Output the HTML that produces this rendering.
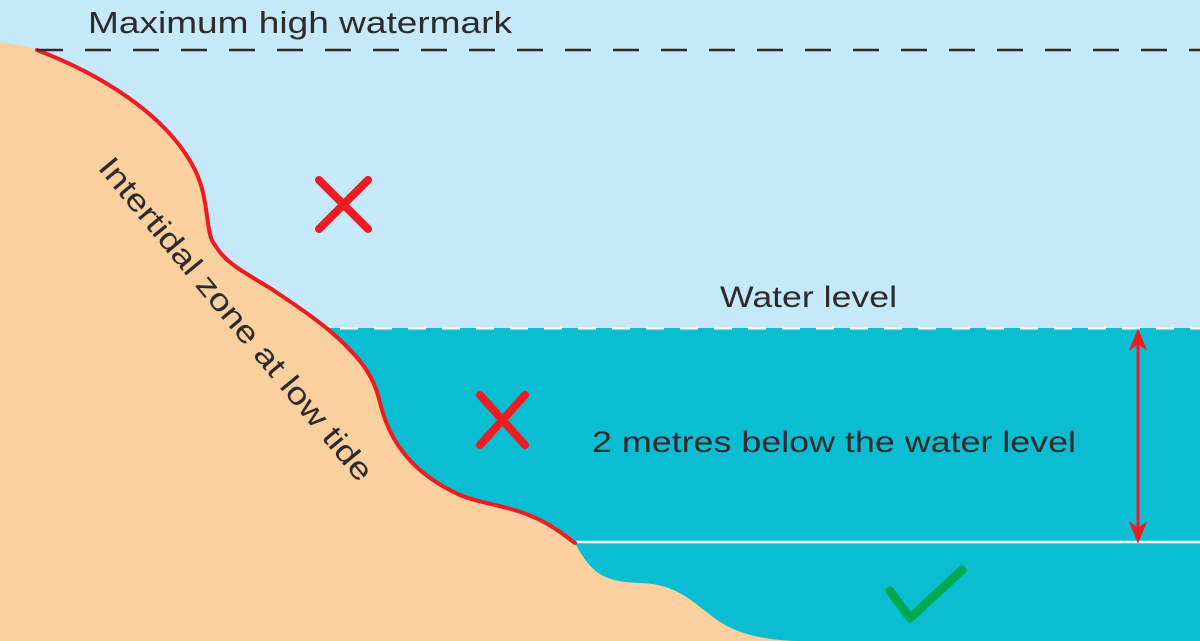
<!DOCTYPE html>
<html><head><meta charset="utf-8"><style>
html,body{margin:0;padding:0;background:#c5e9f9}
svg{display:block}
text{font-family:"Liberation Sans",sans-serif;fill:#2e2a2b}
</style></head><body>
<svg width="1200" height="641" viewBox="0 0 1200 641" xmlns="http://www.w3.org/2000/svg">
<rect x="0" y="0" width="1200" height="641" fill="#c5e9f9"/>
<rect x="300" y="328" width="900" height="313" fill="#0bbdd1"/>
<line x1="340" y1="328.5" x2="1200" y2="328.5" stroke="#fff" stroke-width="2" stroke-dasharray="18,16"/>
<line x1="575" y1="542" x2="1200" y2="542" stroke="#fff" stroke-width="2.5"/>
<path d="M0,42 C15,44 28,47 37,50 C110,78 170,120 195,170 C210,200 205,235 215,245 C225,262 240,270 270,288 C300,308 330,328 350,350 C375,375 378,395 382,410 C392,445 415,475 460,495 C480,504 510,505 540,520 C560,530 570,540 575,543 C590,570 600,582 640,583 C680,584 695,605 720,622 C745,638 780,641 800,641 L0,641 Z" fill="#fbd09f"/>
<path d="M37,50 C110,78 170,120 195,170 C210,200 205,235 215,245 C225,262 240,270 270,288 C300,308 330,328 350,350 C375,375 378,395 382,410 C392,445 415,475 460,495 C480,504 510,505 540,520 C560,530 570,540 575,543" fill="none" stroke="#ed1c24" stroke-width="4" stroke-linecap="round"/>
<line x1="37" y1="50" x2="1200" y2="50" stroke="#2e2a2b" stroke-width="2.5" stroke-dasharray="26,22"/>
<text x="88" y="33" font-size="31" textLength="424" lengthAdjust="spacingAndGlyphs">Maximum high watermark</text>
<text x="720" y="307" font-size="30" textLength="177" lengthAdjust="spacingAndGlyphs">Water level</text>
<text x="592" y="452" font-size="30" textLength="484" lengthAdjust="spacingAndGlyphs">2 metres below the water level</text>
<text transform="translate(97,168) rotate(50.3)" font-size="31" textLength="410" lengthAdjust="spacingAndGlyphs">Intertidal zone at low tide</text>
<g stroke="#ed1c24" stroke-width="8" stroke-linecap="round">
<line x1="319" y1="180" x2="368" y2="229"/><line x1="368" y1="180" x2="319" y2="229"/>
<line x1="480" y1="395" x2="525" y2="445"/><line x1="525" y1="395" x2="480" y2="445"/>
</g>
<line x1="1138" y1="335" x2="1138" y2="535" stroke="#ed1c24" stroke-width="3"/>
<path d="M1131,348 L1138,331 L1145,348 L1138,343 Z" fill="#ed1c24" stroke="#ed1c24" stroke-width="2"/>
<path d="M1131,524 L1138,541 L1145,524 L1138,529 Z" fill="#ed1c24" stroke="#ed1c24" stroke-width="2"/>
<path d="M890,591 L910,618 L962,570" fill="none" stroke="#00a94f" stroke-width="9" stroke-linecap="round" stroke-linejoin="round"/>
</svg>
</body></html>
